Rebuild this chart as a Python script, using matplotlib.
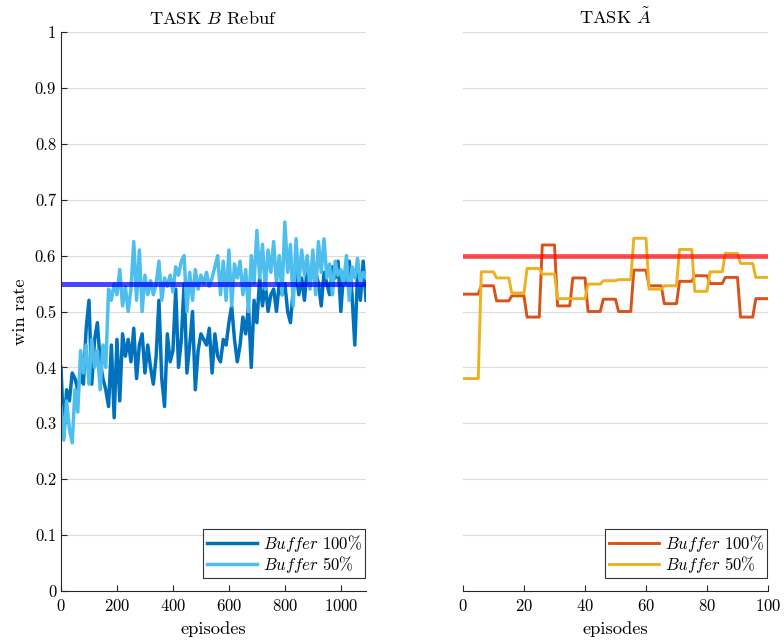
import numpy as np
import matplotlib
matplotlib.use("Agg")
import matplotlib.pyplot as plt

plt.rcParams["font.family"] = "serif"
plt.rcParams["font.serif"] = ["cmr10"]
plt.rcParams["mathtext.fontset"] = "cm"
plt.rcParams["axes.formatter.use_mathtext"] = True
plt.rcParams["axes.unicode_minus"] = False

# ---- TASK B (rebuffered) : win rate sampled every 10 episodes ----
ep_step_b = 10
winrate_b_buf100 = [
    0.40, 0.28, 0.36, 0.34, 0.39, 0.38, 0.36, 0.39, 0.37, 0.47,
    0.52, 0.37, 0.45, 0.48, 0.41, 0.38, 0.36, 0.33, 0.44, 0.31,
    0.45, 0.34, 0.46, 0.42, 0.45, 0.41, 0.47, 0.38, 0.44, 0.46,
    0.39, 0.44, 0.40, 0.37, 0.42, 0.52, 0.38, 0.33, 0.46, 0.41,
    0.43, 0.54, 0.40, 0.45, 0.55, 0.39, 0.44, 0.50, 0.36, 0.43,
    0.46, 0.45, 0.44, 0.47, 0.39, 0.46, 0.42, 0.41, 0.45, 0.44,
    0.48, 0.51, 0.45, 0.41, 0.44, 0.49, 0.46, 0.51, 0.40, 0.52,
    0.48, 0.56, 0.51, 0.55, 0.50, 0.53, 0.54, 0.50, 0.55, 0.53,
    0.55, 0.50, 0.48, 0.54, 0.57, 0.53, 0.56, 0.52, 0.58, 0.55,
    0.59, 0.57, 0.55, 0.51, 0.57, 0.55, 0.53, 0.58, 0.56, 0.59,
    0.50, 0.57, 0.55, 0.59, 0.53, 0.44, 0.57, 0.52, 0.59, 0.52,
]
winrate_b_buf50 = [
    0.33, 0.27, 0.34, 0.29, 0.265, 0.36, 0.32, 0.43, 0.39, 0.44,
    0.37, 0.45, 0.40, 0.43, 0.36, 0.44, 0.40, 0.54, 0.52, 0.55,
    0.53, 0.575, 0.51, 0.545, 0.50, 0.54, 0.625, 0.52, 0.61, 0.50,
    0.565, 0.53, 0.555, 0.53, 0.55, 0.59, 0.52, 0.56, 0.545, 0.565,
    0.535, 0.58, 0.565, 0.59, 0.60, 0.50, 0.57, 0.52, 0.575, 0.54,
    0.565, 0.55, 0.57, 0.545, 0.56, 0.58, 0.60, 0.53, 0.59, 0.52,
    0.61, 0.51, 0.585, 0.56, 0.59, 0.53, 0.575, 0.50, 0.60, 0.55,
    0.645, 0.56, 0.62, 0.54, 0.61, 0.57, 0.625, 0.55, 0.60, 0.53,
    0.66, 0.57, 0.62, 0.51, 0.63, 0.55, 0.61, 0.565, 0.60, 0.54,
    0.61, 0.53, 0.625, 0.57, 0.63, 0.56, 0.585, 0.53, 0.59, 0.565,
    0.575, 0.55, 0.60, 0.52, 0.58, 0.56, 0.595, 0.55, 0.57, 0.56,
]
baseline_b = 0.55

# ---- TASK A~ : win rate held over blocks of 5 episodes, 0..100 ----
block_len_a = 5
winrate_a_buf100 = [0.531, 0.546, 0.519, 0.528, 0.490, 0.619, 0.510, 0.560, 0.500, 0.522,
                    0.500, 0.574, 0.546, 0.514, 0.554, 0.564, 0.550, 0.561, 0.490, 0.523]
winrate_a_buf50 = [0.380, 0.571, 0.560, 0.533, 0.577, 0.567, 0.523, 0.523, 0.549, 0.555,
                   0.557, 0.631, 0.540, 0.546, 0.611, 0.536, 0.571, 0.604, 0.586, 0.561]
baseline_a = 0.60

legend_labels = [r"$Buffer$ 100%", r"$Buffer$ 50%"]
y_ticks = [0, 0.1, 0.2, 0.3, 0.4, 0.5, 0.6, 0.7, 0.8, 0.9, 1]
y_ticklabels = ["0", "0.1", "0.2", "0.3", "0.4", "0.5", "0.6", "0.7", "0.8", "0.9", "1"]
xb_ticks = [0, 200, 400, 600, 800, 1000]
xa_ticks = [0, 20, 40, 60, 80, 100]

c_blue_dark = (0.0, 0.447, 0.741)
c_blue_light = (0.301, 0.745, 0.933)
c_orange = (0.850, 0.325, 0.098)
c_yellow = (0.929, 0.694, 0.125)
grid_c = "#dcdcdc"
axis_c = "#262626"

ep_b = np.arange(len(winrate_b_buf100)) * ep_step_b


def block_series(vals):
    # first block covers episodes 0..5, each later block 5 more episodes
    first = [vals[0]] * (block_len_a + 1)
    rest = [v for v in vals[1:] for _ in range(block_len_a)]
    y = np.array(first + rest)
    return np.arange(len(y)), y


fig = plt.figure(figsize=(7.84, 6.44), dpi=100)
ax1 = fig.add_axes([61 / 784, 1 - 591 / 644, 305 / 784, 559 / 644])
ax2 = fig.add_axes([463 / 784, 1 - 591 / 644, 305 / 784, 559 / 644])


def style(ax):
    ax.set_ylim(0, 1)
    ax.set_yticks(y_ticks)
    ax.grid(axis="y", color=grid_c, linewidth=0.8)
    ax.set_axisbelow(True)
    ax.spines["top"].set_visible(False)
    ax.spines["right"].set_visible(False)
    for s in ("left", "bottom"):
        ax.spines[s].set_color(axis_c)
        ax.spines[s].set_linewidth(0.8)
    ax.tick_params(direction="in", length=4, width=0.8, colors=axis_c,
                   labelcolor="black", labelsize=12, top=False, right=False)
    ax.tick_params(axis="x", pad=5)


def add_legend(ax):
    leg = ax.legend(loc="lower right", fontsize=12.0, frameon=True, fancybox=False,
                    edgecolor="black", handlelength=3.0, handletextpad=0.35,
                    borderaxespad=0.0, bbox_to_anchor=(0.997, 0.023),
                    labelspacing=0.0, borderpad=0.2)
    leg.get_frame().set_linewidth(0.8)
    return leg


# left panel
style(ax1)
ax1.plot(ep_b, winrate_b_buf100, color=c_blue_dark, lw=2.5, label=legend_labels[0])
ax1.plot(ep_b, winrate_b_buf50, color=c_blue_light, lw=2.5, label=legend_labels[1])
ax1.axhline(baseline_b, color=(0, 0, 1), alpha=0.72, lw=3.6)
ax1.set_xlim(0, 1090)
ax1.set_xticks(xb_ticks)
ax1.set_yticklabels(y_ticklabels)
ax1.set_xlabel("episodes", fontsize=13.3, labelpad=5)
ax1.set_ylabel("win rate", fontsize=13.3, labelpad=5)
ax1.set_title(r"TASK $B$ Rebuf", fontsize=13.2, pad=6)
add_legend(ax1)

# right panel
style(ax2)
xa, ya100 = block_series(winrate_a_buf100)
_, ya50 = block_series(winrate_a_buf50)
ax2.plot(xa, ya100, color=c_orange, lw=2.1, label=legend_labels[0])
ax2.plot(xa, ya50, color=c_yellow, lw=2.1, label=legend_labels[1])
ax2.axhline(baseline_a, color=(1, 0, 0), alpha=0.7, lw=3.4)
ax2.set_xlim(0, 100)
ax2.set_xticks(xa_ticks)
ax2.spines["left"].set_visible(False)
ax2.tick_params(axis="y", left=False, labelleft=False)
ax2.set_xlabel("episodes", fontsize=13.3, labelpad=5)
ax2.set_title(r"TASK $\tilde{A}$", fontsize=13.2, pad=6)
add_legend(ax2)

fig.savefig("out.png", dpi=100)
